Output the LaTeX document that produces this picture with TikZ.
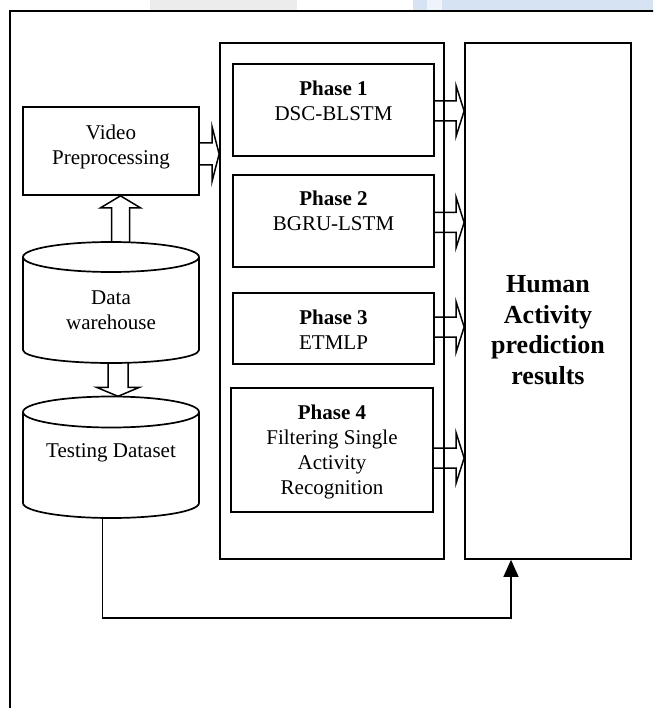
\documentclass[tikz,border=0pt]{standalone}
\usepackage{fontspec}
\setmainfont{Liberation Serif}
\usetikzlibrary{calc,arrows.meta}

\definecolor{wmblue}{RGB}{214,227,242}
\definecolor{wmgray}{RGB}{236,236,236}

\tikzset{
  boxline/.style={draw, line width=1.7pt},
  panel/.style={boxline, rectangle, inner sep=0pt},
  area/.style={rectangle, inner sep=0pt},
  plain/.style={font=\fontsize{21}{25}\selectfont, align=center, inner sep=0pt},
  heavy/.style={font=\bfseries\fontsize{26}{30.7}\selectfont, align=center, inner sep=0pt},
  fat/.style={draw, line width=1.5pt, line join=miter},
  conn/.style={draw, line width=1.3pt, -{Triangle[width=15pt,length=17pt]}},
  framing/.style={draw, line width=1.2pt},
}

% hollow block arrow pointing right: start, tip, half shaft, half head, head length
\newcommand\harrow[5]{%
  \draw[fat] let \p1=#1, \p2=#2 in
    (\x1,\y1+#3) -- (\x2-#5,\y1+#3) -- (\x2-#5,\y1+#4) -- (\x2,\y1)
    -- (\x2-#5,\y1-#4) -- (\x2-#5,\y1-#3) -- (\x1,\y1-#3);}
% hollow block arrow, vertical: start, tip, half shaft, half head, signed offset of the head base from the tip
\newcommand\varrow[5]{%
  \draw[fat] let \p1=#1, \p2=#2 in
    (\x1-#3,\y1) -- (\x1-#3,\y2+#5) -- (\x1-#4,\y2+#5) -- (\x1,\y2)
    -- (\x1+#4,\y2+#5) -- (\x1+#3,\y2+#5) -- (\x1+#3,\y1);}

\begin{document}
\begin{tikzpicture}[x=1pt,y=-1pt]
\useasboundingbox (0,0) rectangle (653,708);
\clip (0,0) rectangle (653,708);

% faint header strip
\fill[wmgray] (150,0) rectangle (297,10);
\fill[wmblue] (413,0) rectangle (653,10);
\fill[white!60!wmblue] (427,0) rectangle (442,10);

% outer frame
\draw[framing] (10,720) -- (10,11) -- (665,11);

% left column
\node[panel, minimum width=176pt, minimum height=88pt] (vp) at (111,151) {};
\node[plain] (vpt) at (111,146.5) {Video\\Preprocessing};

\draw[boxline] (23,257) -- (23,350)
  arc[start angle=180, end angle=360, x radius=88pt, y radius=13pt] -- (199,257);
\draw[boxline] (111,257) ellipse[x radius=88pt, y radius=15pt];
\node[area, minimum width=176pt, minimum height=121pt] (dw) at (111,302.5) {};
\node[plain] (dwt) at (111,310) {Data\\warehouse};

\draw[boxline] (23,412) -- (23,503)
  arc[start angle=180, end angle=360, x radius=88pt, y radius=15pt] -- (199,412);
\draw[boxline] (111,412) ellipse[x radius=88pt, y radius=15.5pt];
\node[area, minimum width=176pt, minimum height=121.5pt] (td) at (111,457.25) {};
\node[plain] (tdt) at (111,452.5) {Testing Dataset};

% middle container with the four phases
\node[panel, minimum width=224pt, minimum height=516pt] (ct) at (332,301) {};
\node[panel, minimum width=201pt, minimum height=92pt] (p1) at (333.5,110) {};
\node[plain] (p1t) at (333.5,101) {\textbf{Phase 1}\\DSC-BLSTM};
\node[panel, minimum width=201pt, minimum height=92pt] (p2) at (333.5,221) {};
\node[plain] (p2t) at (333.5,211) {\textbf{Phase 2}\\BGRU-LSTM};
\node[panel, minimum width=201pt, minimum height=71pt] (p3) at (333.5,328.5) {};
\node[plain] (p3t) at (333.5,329.5) {\textbf{Phase 3}\\ETMLP};
\node[panel, minimum width=202pt, minimum height=124pt] (p4) at (332,450) {};
\node[plain] (p4t) at (332,452) {\textbf{Phase 4}\\Filtering Single\\Activity\\Recognition};

% results
\node[panel, minimum width=166pt, minimum height=516pt] (res) at (548,301) {};
\node[heavy] (rest) at (548,330) {Human\\Activity\\prediction\\results};

% block arrows
\varrow{($(dw.north)+(9.5,0)$)}{($(vp.south)+(9.5,0)$)}{9pt}{20pt}{-12pt}
\varrow{($(dw.south)+(7,0)$)}{($(td.north)+(7,0)$)}{10pt}{21.5pt}{9pt}
\harrow{($(vp.east)+(0,3)$)}{(ct.west)}{11pt}{27pt}{7pt}
\harrow{($(p1.east)+(0,1)$)}{(res.west)}{10pt}{25pt}{8pt}
\harrow{($(p2.east)+(0,1.5)$)}{(res.west)}{10pt}{25pt}{8pt}
\harrow{($(p3.east)+(0,-1.5)$)}{(res.west)}{10pt}{25pt}{8pt}
\harrow{($(p4.east)+(0,8)$)}{(res.west)}{10pt}{25pt}{8pt}

% test data straight to the results
\coordinate (low) at (102.5,618);
\draw[conn] ($(td.south)+(-8.5,0)$) -- (low) -| ($(res.south)+(-37,0)$);
\end{tikzpicture}
\end{document}
